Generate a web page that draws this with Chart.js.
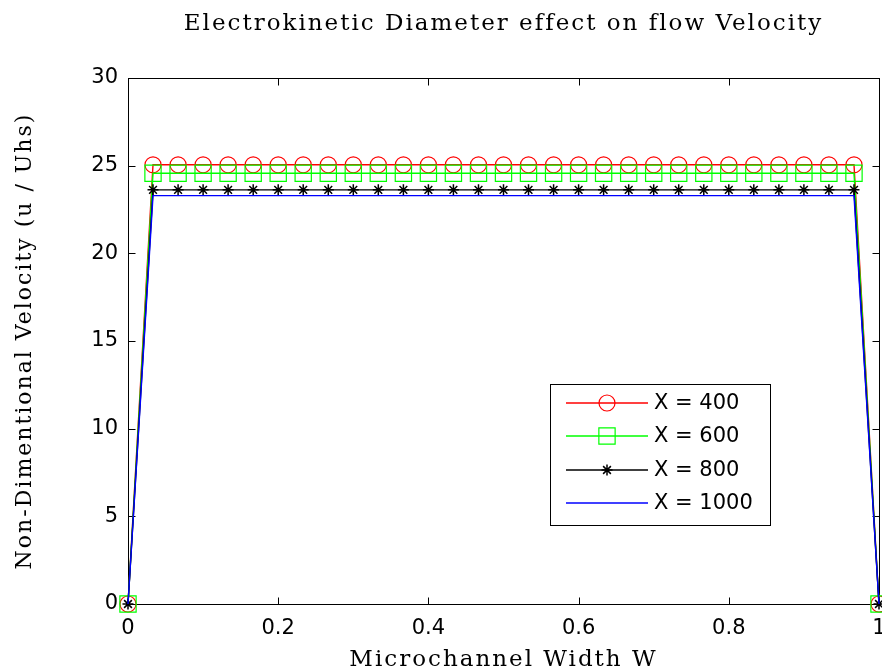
<!DOCTYPE html>
<html>
<head>
<meta charset="utf-8">
<title>Electrokinetic Diameter effect on flow Velocity</title>
<script src="https://cdn.jsdelivr.net/npm/chart.js@4.4.1/dist/chart.umd.min.js"></script>
<style>
    html, body { margin: 0; padding: 0; background: #ffffff; }
    #chart-wrap { width: 882px; height: 672px; }
</style>
</head>
<body>
<div id="chart-wrap"><canvas id="velocity-chart" width="882" height="672"></canvas></div>
<script>
// Stations across the channel width (0 = wall, 1 = opposite wall)
const widthPositions = [
    0, 0.0333, 0.0667, 0.1, 0.1333, 0.1667, 0.2, 0.2333, 0.2667, 0.3,
    0.3333, 0.3667, 0.4, 0.4333, 0.4667, 0.5, 0.5333, 0.5667, 0.6, 0.6333,
    0.6667, 0.7, 0.7333, 0.7667, 0.8, 0.8333, 0.8667, 0.9, 0.9333, 0.9667,
    1
];

// Non-dimensional velocity u / Uhs for each electrokinetic diameter X
const velocityX400 = [
    0,
    25.05, 25.05, 25.05, 25.05, 25.05, 25.05, 25.05, 25.05, 25.05, 25.05,
    25.05, 25.05, 25.05, 25.05, 25.05, 25.05, 25.05, 25.05, 25.05, 25.05,
    25.05, 25.05, 25.05, 25.05, 25.05, 25.05, 25.05, 25.05, 25.05,
    0
];
const velocityX600 = [
    0,
    24.57, 24.57, 24.57, 24.57, 24.57, 24.57, 24.57, 24.57, 24.57, 24.57,
    24.57, 24.57, 24.57, 24.57, 24.57, 24.57, 24.57, 24.57, 24.57, 24.57,
    24.57, 24.57, 24.57, 24.57, 24.57, 24.57, 24.57, 24.57, 24.57,
    0
];
const velocityX800 = [
    0,
    23.62, 23.62, 23.62, 23.62, 23.62, 23.62, 23.62, 23.62, 23.62, 23.62,
    23.62, 23.62, 23.62, 23.62, 23.62, 23.62, 23.62, 23.62, 23.62, 23.62,
    23.62, 23.62, 23.62, 23.62, 23.62, 23.62, 23.62, 23.62, 23.62,
    0
];
const velocityX1000 = [
    0,
    23.29, 23.29, 23.29, 23.29, 23.29, 23.29, 23.29, 23.29, 23.29, 23.29,
    23.29, 23.29, 23.29, 23.29, 23.29, 23.29, 23.29, 23.29, 23.29, 23.29,
    23.29, 23.29, 23.29, 23.29, 23.29, 23.29, 23.29, 23.29, 23.29,
    0
];

const seriesLabels = ['X = 400', 'X = 600', 'X = 800', 'X = 1000'];
const seriesColors = ['#ff0000', '#00ff00', '#000000', '#0000ff'];

// Axis ticks
const xTicks = [0, 0.2, 0.4, 0.6, 0.8, 1];
const yTicks = [0, 5, 10, 15, 20, 25, 30];

const tickFont = { family: 'DejaVu Sans', size: 21 };
const lineWidth = 1.4;

function toPoints(values) {
    return values.map((v, i) => ({ x: widthPositions[i], y: v }));
}

// Box around the plot area with inward tick marks on all four sides
const boxFrame = {
    id: 'boxFrame',
    beforeDatasetsDraw(chart) {
        const { ctx, chartArea, scales } = chart;
        const left = Math.round(chartArea.left) + 0.5;
        const right = Math.round(chartArea.right) + 0.5;
        const top = Math.round(chartArea.top) + 0.5;
        const bottom = Math.round(chartArea.bottom) + 0.5;
        const len = 7;
        ctx.save();
        ctx.strokeStyle = '#000000';
        ctx.lineWidth = 1;
        ctx.strokeRect(left, top, right - left, bottom - top);
        ctx.beginPath();
        scales.x.ticks.forEach(t => {
            const px = Math.round(scales.x.getPixelForValue(t.value)) + 0.5;
            ctx.moveTo(px, bottom); ctx.lineTo(px, bottom - len);
            ctx.moveTo(px, top); ctx.lineTo(px, top + len);
        });
        scales.y.ticks.forEach(t => {
            const py = Math.round(scales.y.getPixelForValue(t.value)) + 0.5;
            ctx.moveTo(left, py); ctx.lineTo(left + len, py);
            ctx.moveTo(right, py); ctx.lineTo(right - len, py);
        });
        ctx.stroke();
        ctx.restore();
    }
};

// Legend drawn inside the plot, with a line sample and its marker
const boxedLegend = {
    id: 'boxedLegend',
    afterDatasetsDraw(chart, args, opts) {
        const { ctx, chartArea } = chart;
        const left = Math.round(chartArea.right - opts.right - opts.width);
        const top = Math.round(chartArea.bottom - opts.bottom - opts.height);
        ctx.save();
        ctx.letterSpacing = '0px';
        ctx.fillStyle = '#ffffff';
        ctx.fillRect(left, top, opts.width, opts.height);
        ctx.strokeStyle = '#000000';
        ctx.lineWidth = 1;
        ctx.strokeRect(left + 0.5, top + 0.5, opts.width, opts.height);
        ctx.font = tickFont.size + 'px ' + tickFont.family;
        ctx.textBaseline = 'middle';
        chart.data.datasets.forEach((ds, i) => {
            const y = Math.round(top + opts.firstRow + i * opts.rowGap);
            ctx.lineWidth = lineWidth;
            ctx.strokeStyle = seriesColors[i];
            ctx.beginPath();
            ctx.moveTo(left + opts.lineStart, y);
            ctx.lineTo(left + opts.lineEnd, y);
            ctx.stroke();
            if (ds.pointRadius > 0) {
                ctx.lineWidth = ds.pointBorderWidth;
                ctx.fillStyle = 'rgba(0,0,0,0)';
                ctx.strokeStyle = seriesColors[i];
                Chart.helpers.drawPoint(ctx, {
                    pointStyle: ds.pointStyle,
                    radius: ds.pointRadius,
                    rotation: 0,
                    borderWidth: ds.pointBorderWidth
                }, left + (opts.lineStart + opts.lineEnd) / 2, y);
            }
            ctx.fillStyle = '#000000';
            ctx.fillText(ds.label, left + opts.textStart, y + 1);
        });
        ctx.restore();
    }
};

// Spaced-out lettering for the titles; tick labels (drawn after the data) use none
const textSpacing = {
    id: 'textSpacing',
    beforeDraw(chart) { chart.ctx.letterSpacing = '2px'; },
    afterDatasetsDraw(chart) { chart.ctx.letterSpacing = '0px'; }
};

const chart = new Chart(document.getElementById('velocity-chart'), {
    type: 'line',
    data: {
        datasets: [
            {
                label: seriesLabels[0],
                data: toPoints(velocityX400),
                borderColor: seriesColors[0],
                borderWidth: lineWidth,
                pointStyle: 'circle',
                pointRadius: 8,
                pointBorderColor: seriesColors[0],
                pointBackgroundColor: 'rgba(0,0,0,0)',
                pointBorderWidth: 1.2,
                order: 4
            },
            {
                label: seriesLabels[1],
                data: toPoints(velocityX600),
                borderColor: seriesColors[1],
                borderWidth: lineWidth,
                pointStyle: 'rect',
                pointRadius: 11.5,
                pointBorderColor: seriesColors[1],
                pointBackgroundColor: 'rgba(0,0,0,0)',
                pointBorderWidth: 1.2,
                order: 3
            },
            {
                label: seriesLabels[2],
                data: toPoints(velocityX800),
                borderColor: seriesColors[2],
                borderWidth: lineWidth,
                pointStyle: 'star',
                pointRadius: 5.5,
                pointBorderColor: seriesColors[2],
                pointBackgroundColor: 'rgba(0,0,0,0)',
                pointBorderWidth: 1.5,
                order: 2
            },
            {
                label: seriesLabels[3],
                data: toPoints(velocityX1000),
                borderColor: seriesColors[3],
                borderWidth: lineWidth,
                pointRadius: 0,
                order: 1
            }
        ]
    },
    options: {
        responsive: false,
        animation: false,
        clip: false,
        layout: {
            autoPadding: false,
            padding: { left: 0, right: 3, top: 0, bottom: 0 }
        },
        elements: {
            line: { tension: 0 },
            point: { hoverRadius: 0 }
        },
        plugins: {
            legend: { display: false },
            tooltip: { enabled: false },
            title: {
                display: true,
                fullSize: false,
                text: 'Electrokinetic Diameter effect on flow Velocity',
                color: '#000000',
                font: { family: 'DejaVu Serif', size: 23, weight: 'normal', lineHeight: 1.2 },
                padding: { top: 10, bottom: 40.4 }
            },
            boxedLegend: {
                width: 220, height: 141, right: 109, bottom: 79,
                firstRow: 19, rowGap: 33.3,
                lineStart: 16, lineEnd: 98, textStart: 104
            }
        },
        scales: {
            x: {
                type: 'linear',
                min: 0,
                max: 1,
                afterBuildTicks: scale => { scale.ticks = xTicks.map(v => ({ value: v })); },
                afterFit: scale => {
                    scale.height = 68;
                    scale.paddingLeft = 0;
                    scale.paddingRight = 0;
                },
                grid: { display: false, drawTicks: false },
                border: { display: false },
                ticks: {
                    color: '#000000',
                    font: tickFont,
                    padding: 12,
                    maxRotation: 0,
                    z: 1,
                    callback: v => String(v)
                },
                title: {
                    display: true,
                    text: 'Microchannel Width W',
                    color: '#000000',
                    font: { family: 'DejaVu Serif', size: 23, lineHeight: 1.0 },
                    padding: { top: 0, bottom: 0 }
                }
            },
            y: {
                type: 'linear',
                min: 0,
                max: 30,
                afterBuildTicks: scale => { scale.ticks = yTicks.map(v => ({ value: v })); },
                afterFit: scale => {
                    scale.width = 128;
                    scale.paddingTop = 0;
                    scale.paddingBottom = 0;
                },
                grid: { display: false, drawTicks: false },
                border: { display: false },
                ticks: {
                    color: '#000000',
                    font: tickFont,
                    padding: 10,
                    z: 1,
                    callback: v => String(v)
                },
                title: {
                    display: true,
                    text: 'Non-Dimentional Velocity (u / Uhs)',
                    color: '#000000',
                    font: { family: 'DejaVu Serif', size: 22, lineHeight: 1.2 },
                    padding: { top: 12, bottom: 0 }
                }
            }
        }
    },
    plugins: [boxFrame, boxedLegend, textSpacing]
});
</script>
</body>
</html>
